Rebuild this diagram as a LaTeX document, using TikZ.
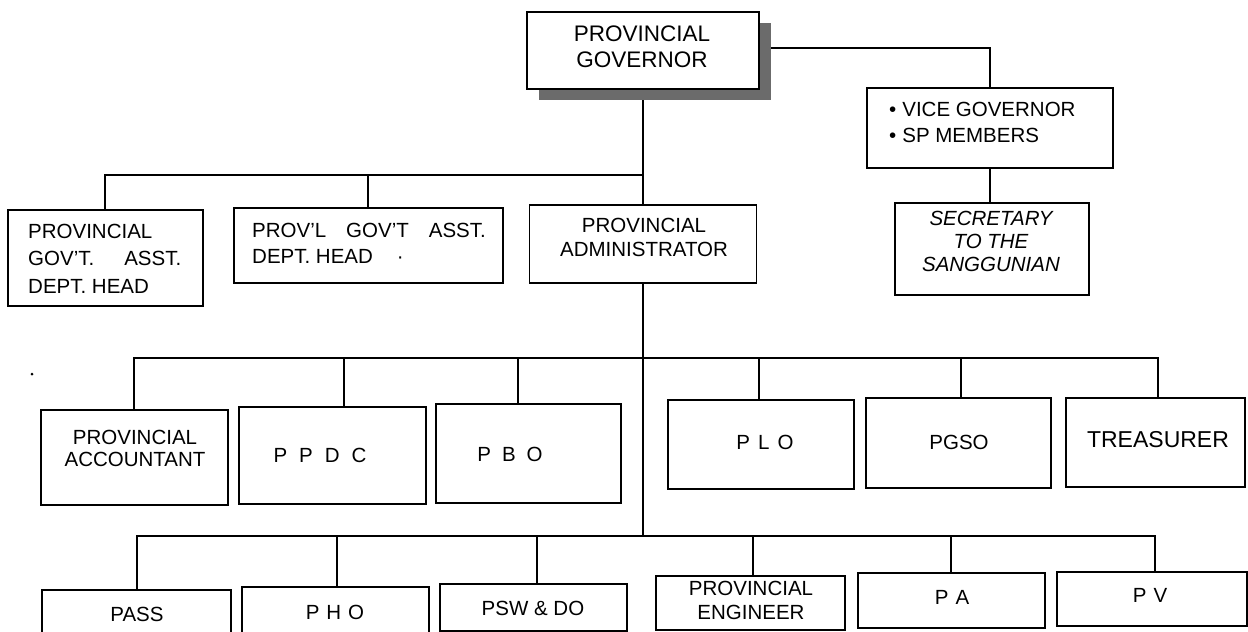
\documentclass[tikz,border=0pt]{standalone}
\usepackage{fontspec}
\setmainfont{Liberation Sans}
\usetikzlibrary{backgrounds}
\begin{document}
\begin{tikzpicture}[x=1pt,y=-1pt,
  box/.style={draw, line width=1.7pt, fill=white, rectangle, inner sep=0pt},
  txt/.style={inner sep=0pt, align=center, font=\fontsize{20.5}{26}\selectfont},
  link/.style={line width=1.7pt},
  shade/.style={fill=black!58}]
\useasboundingbox (0,0) rectangle (1248,632);

% governor with its drop shadow
\fill[shade] (539,23) rectangle (771,100);
\node[box, minimum width=232pt, minimum height=77pt] (gov) at (643,50.5) {};
\node[txt, font=\fontsize{22.5}{26}\selectfont] (govT) at (642,47) {PROVINCIAL\\GOVERNOR};

% legislative side
\node[box, minimum width=246pt, minimum height=80pt] (vice) at (990,128) {};
\node[txt, align=left, anchor=west] (viceT) at (889,122.5) {•\hspace{6pt}VICE GOVERNOR\\•\hspace{6pt}SP MEMBERS};
\node[box, minimum width=194pt, minimum height=92pt] (sec) at (992,249) {};
\node[txt, font=\fontsize{20.5}{23}\selectfont\itshape] (secT) at (991,241.5) {SECRETARY\\TO THE\\SANGGUNIAN};

% first level
\node[box, minimum width=195pt, minimum height=96pt] (ra) at (105.5,258) {};
\node[txt, align=left, anchor=west, font=\fontsize{20.5}{27.5}\selectfont] (raT) at (28,258.5)
  {PROVINCIAL\\GOV'T.\hspace{30pt}ASST.\\DEPT. HEAD};
\node[box, minimum width=269pt, minimum height=75pt] (rb) at (368.5,245.5) {};
\node[txt, align=left, anchor=west] (rbT) at (252,243)
  {PROV'L\hspace{20pt}GOV'T\hspace{20pt}ASST.\\DEPT. HEAD\hspace{24pt}·};
\node[box, minimum width=227pt, minimum height=78pt] (adm) at (643,244) {};
\node[txt, font=\fontsize{20.5}{24.5}\selectfont] (admT) at (644,237.5) {PROVINCIAL\\ADMINISTRATOR};

% second level
\node[box, minimum width=187pt, minimum height=95pt] (acct) at (134.5,457.5) {};
\node[txt, font=\fontsize{20.5}{22}\selectfont] (acctT) at (135,448) {PROVINCIAL\\ACCOUNTANT};
\node[box, minimum width=187pt, minimum height=97pt] (ppdc) at (332.5,455.5) {};
\node[txt] (ppdcT) at (320,455) {P\hspace{12pt}P\hspace{12pt}D\hspace{12pt}C};
\node[box, minimum width=185pt, minimum height=99pt] (pbo) at (528.5,453.5) {};
\node[txt] (pboT) at (510,454) {P\hspace{11pt}B\hspace{11pt}O};
\node[box, minimum width=186pt, minimum height=89pt] (plo) at (761,444.5) {};
\node[txt] (ploT) at (765,442) {P\hspace{8pt}L\hspace{8pt}O};
\node[box, minimum width=185pt, minimum height=90pt] (pgso) at (958.5,443) {};
\node[txt] (pgsoT) at (959,442) {PGSO};
\node[box, minimum width=179pt, minimum height=89pt] (treas) at (1155.5,442.5) {};
\node[txt, font=\fontsize{23}{26}\selectfont] (treasT) at (1158,440) {TREASURER};

% third level
\node[box, minimum width=189pt, minimum height=52pt] (pass) at (136.5,616) {};
\node[txt] (passT) at (137,614) {PASS};
\node[box, minimum width=187pt, minimum height=55pt] (pho) at (335.5,614.5) {};
\node[txt] (phoT) at (335,612) {P\hspace{7pt}H\hspace{7pt}O};
\node[box, minimum width=187pt, minimum height=47pt] (psw) at (533.5,607.5) {};
\node[txt] (pswT) at (533,608) {PSW \& DO};
\node[box, minimum width=189pt, minimum height=54pt] (eng) at (750.5,603) {};
\node[txt, font=\fontsize{20.5}{24}\selectfont] (engT) at (751,600) {PROVINCIAL\\ENGINEER};
\node[box, minimum width=187pt, minimum height=55pt] (pa) at (951.5,600.5) {};
\node[txt] (paT) at (952,597) {P\hspace{7pt}A};
\node[box, minimum width=190pt, minimum height=54pt] (pv) at (1152,599) {};
\node[txt] (pvT) at (1150,595) {P\hspace{7pt}V};

% stray speck on the sheet
\fill (32,374) circle (1.5pt);

% bus junctions on the main vertical
\coordinate (bus1) at (643,175);
\coordinate (bus2) at (643,358);
\coordinate (bus3) at (643,536);

% connectors, kept behind the boxes
\begin{pgfonlayer}{background}
  \draw[link] (gov.east) ++(0,-2.5) -| (vice.north);
  \draw[link] (vice.south) -- (vice.south |- sec.north);
  \draw[link] (gov.south) -- (gov.south |- adm.north);
  \draw[link] (ra.north -| 105,0) |- (bus1);
  \draw[link] (rb.north -| 368,0) -- (368,175);
  \draw[link] (adm.south) -- (bus3);
  \draw[link] (acct.north -| 134,0) |- (bus2) -| (treas.north -| 1158,0);
  \draw[link] (ppdc.north -| 344,0) -- (344,358);
  \draw[link] (pbo.north -| 518,0) -- (518,358);
  \draw[link] (plo.north -| 759,0) -- (759,358);
  \draw[link] (pgso.north -| 961,0) -- (961,358);
  \draw[link] (pass.north -| 137,0) |- (bus3) -| (pv.north -| 1155,0);
  \draw[link] (pho.north -| 337,0) -- (337,536);
  \draw[link] (psw.north -| 537,0) -- (537,536);
  \draw[link] (eng.north -| 753,0) -- (753,536);
  \draw[link] (pa.north -| 951,0) -- (951,536);
\end{pgfonlayer}
\end{tikzpicture}
\end{document}
